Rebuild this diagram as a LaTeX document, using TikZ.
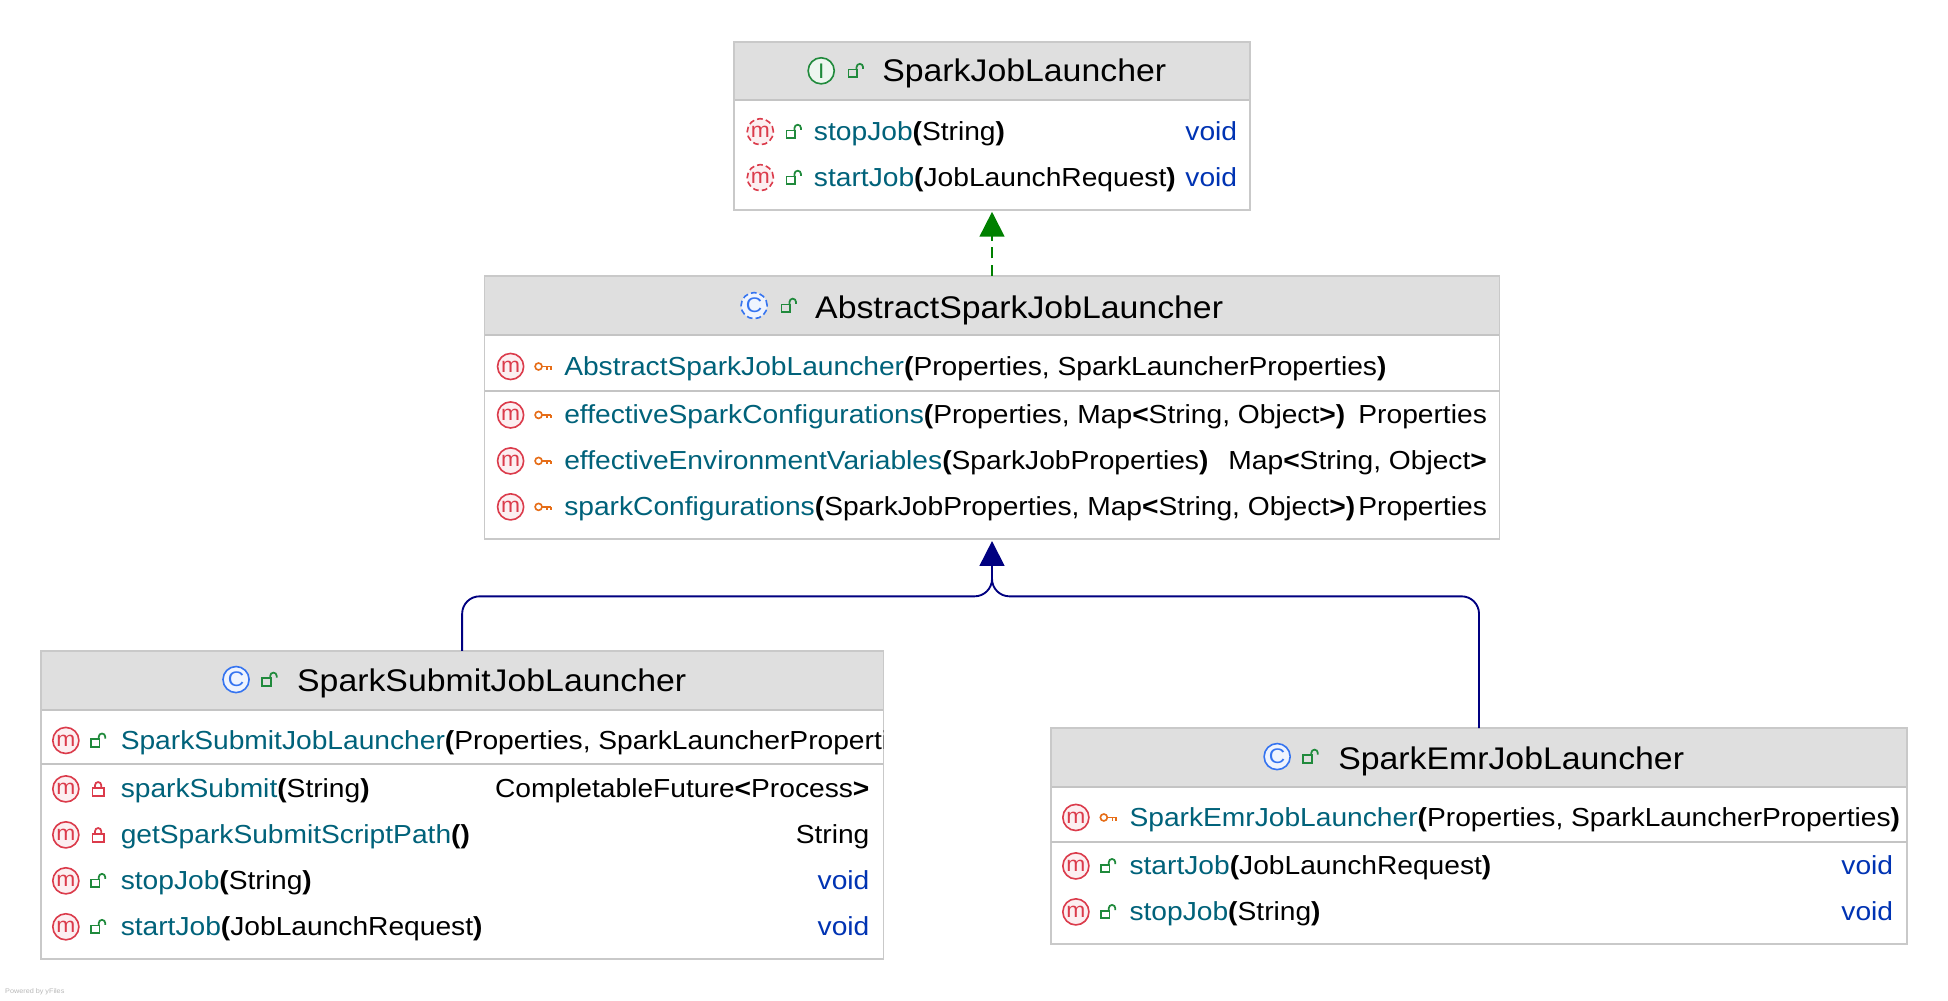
\documentclass[tikz,border=0pt]{standalone}
\usepackage{fontspec}
\setmainfont[FakeStretch=1.08]{Liberation Sans}
\usetikzlibrary{arrows.meta}
\definecolor{hdr}{HTML}{DFDFDF}
\definecolor{bord}{HTML}{C9C9C9}
\definecolor{sepc}{HTML}{C4C4C4}
\definecolor{teal}{HTML}{00627A}
\definecolor{voidc}{HTML}{0033B3}
\definecolor{mred}{HTML}{DB3B4B}
\definecolor{lgreen}{HTML}{208A3C}
\definecolor{korange}{HTML}{E66D17}
\definecolor{cblue}{HTML}{3574F0}
\definecolor{agreen}{HTML}{008000}
\definecolor{anavy}{HTML}{000080}
\newcommand{\B}[1]{\textbf{#1}}
\tikzset{
  dsh/.style={dash pattern=on 4.6pt off 2.6pt},
  cbox/.style={draw=bord,line width=1.3pt,fill=white,inner sep=0pt,outer sep=0pt},
  hbox/.style={fill=hdr,inner sep=0pt,outer sep=0pt},
  sepl/.style={draw=sepc,line width=1.7pt},
  titletxt/.style={anchor=base west,inner sep=0pt,font=\fontsize{25.2}{30}\selectfont},
  rowtxt/.style={anchor=base west,inner sep=0pt,font=\fontsize{21}{25}\selectfont},
  rettxt/.style={anchor=base east,inner sep=0pt,font=\fontsize{21}{25}\selectfont},
  pics/glyph/.style n args={3}{code={
    \draw[#2,fill=#2!8,line width=1.3pt,#3] (0,0) circle (10.5pt);
    \node[text=#2,inner sep=0pt,font=\fontsize{17}{17}\selectfont] (-t) {#1};
  }},
  pics/openlock/.style={code={
    \draw[lgreen,line width=1.4pt] (-6,-1) rectangle (1,5);
    \draw[lgreen,line width=1.4pt] (0.5,-1) -- (0.5,-3) arc[start angle=180,end angle=0,radius=2.6pt] -- (5.7,-1.5);
  }},
  pics/closedlock/.style={code={
    \draw[mred,line width=1.4pt] (-4.5,-0.5) rectangle (4.5,5.5);
    \draw[mred,line width=1.4pt] (-2.5,-0.5) -- (-2.5,-3) arc[start angle=180,end angle=0,radius=2.5pt] -- (2.5,-0.5);
  }},
  pics/keyicon/.style={code={
    \draw[korange,line width=1.3pt] (-3.5,0) circle (2.8pt);
    \draw[korange,line width=1.3pt] (-0.7,0) -- (6.5,0) (3.5,0) -- (3.5,2.8) (6.5,0) -- (6.5,2.8);
  }},
}
\newcommand{\classbox}[6]{%
  \node[cbox,minimum width=#4pt,minimum height=#5pt] (#1) at (#2,#3) {};
  \node[hbox,anchor=north,minimum width=#4pt-1.3pt,minimum height=#6pt] (#1h) at ([yshift=-0.6pt]#1.north) {};
  \draw[sepl] (#1h.south west) -- (#1h.south east);
}
\newcommand{\classtitle}[8]{%
  \pic (#1g) at (#2,#5) {glyph={#6}{#7}{#8}};
  \pic (#1l) at (#3,#5) {openlock};
}
\newcommand{\mrow}[8]{%
  \pic (#1g) at (\mx,#2) {glyph={m}{mred}{#3}};
  \pic (#1l) at (\lx,#2) {#4};
  \node[rowtxt] (#1n) at (\tx,#2+7) {\textcolor{teal}{#5}#6};
  \node[rettxt,text=#8] (#1r) at (\rx,#2+7) {#7};
}
\begin{document}
\begin{tikzpicture}[x=1pt,y=-1pt]
\useasboundingbox (0,0) rectangle (1568,805);
\fill[white] (0,0) rectangle (1568,805);

% boxes
\classbox{top}{798.5}{101.5}{415}{135}{46}
\classbox{abs}{798.5}{328}{817}{212}{47}
\classbox{sub}{372}{648}{678}{248}{47}
\classbox{emr}{1190.5}{673}{689}{174}{47}

% separators
\draw[sepl] (abs.west |- 0,315) -- (abs.east |- 0,315);
\draw[sepl] (sub.west |- 0,615) -- (sub.east |- 0,615);
\draw[sepl] (emr.west |- 0,678) -- (emr.east |- 0,678);

% titles
\classtitle{top}{661}{689}{}{57}{I}{lgreen}{solid}
\node[titletxt] (topt) at (710,66) {SparkJobLauncher};
\classtitle{abs}{607}{635}{}{246}{C}{cblue}{dsh}
\node[titletxt] (abst) at (656,256) {AbstractSparkJobLauncher};
\classtitle{sub}{190}{217}{}{547}{C}{cblue}{solid}
\node[titletxt] (subt) at (239,557) {SparkSubmitJobLauncher};
\classtitle{emr}{1028}{1055}{}{609}{C}{cblue}{solid}
\node[titletxt] (emrt) at (1077,619) {SparkEmrJobLauncher};

% SparkJobLauncher
\def\mx{612}\def\lx{639}\def\tx{655}\def\rx{996}
\mrow{t1}{106}{dsh}{openlock}{stopJob}{\B{(}String\B{)}}{void}{voidc}
\mrow{t2}{143}{dsh}{openlock}{startJob}{\B{(}JobLaunchRequest\B{)}}{void}{voidc}

% AbstractSparkJobLauncher
\def\mx{411}\def\lx{437}\def\tx{454}\def\rx{1197}
\mrow{a1}{295}{solid}{keyicon}{AbstractSparkJobLauncher}{\B{(}Properties, SparkLauncherProperties\B{)}}{}{black}
\mrow{a2}{334}{solid}{keyicon}{effectiveSparkConfigurations}{\B{(}Properties, Map\B{<}String, Object\B{>)}}{Properties}{black}
\mrow{a3}{371}{solid}{keyicon}{effectiveEnvironmentVariables}{\B{(}SparkJobProperties\B{)}}{Map\B{<}String, Object\B{>}}{black}
\mrow{a4}{408}{solid}{keyicon}{sparkConfigurations}{\B{(}SparkJobProperties, Map\B{<}String, Object\B{>)}}{Properties}{black}

% SparkSubmitJobLauncher
\def\mx{53}\def\lx{79}\def\tx{97}\def\rx{700}
\begin{scope}
\clip (sub.north west) rectangle (sub.south east);
\mrow{s1}{596}{solid}{openlock}{SparkSubmitJobLauncher}{\B{(}Properties, SparkLauncherPropertie}{}{black}
\end{scope}
\mrow{s2}{635}{solid}{closedlock}{sparkSubmit}{\B{(}String\B{)}}{CompletableFuture\B{<}Process\B{>}}{black}
\mrow{s3}{672}{solid}{closedlock}{getSparkSubmitScriptPath}{\B{()}}{String}{black}
\mrow{s4}{709}{solid}{openlock}{stopJob}{\B{(}String\B{)}}{void}{voidc}
\mrow{s5}{746}{solid}{openlock}{startJob}{\B{(}JobLaunchRequest\B{)}}{void}{voidc}

% SparkEmrJobLauncher
\def\mx{866}\def\lx{892}\def\tx{909}\def\rx{1524}
\mrow{e1}{658}{solid}{keyicon}{SparkEmrJobLauncher}{\B{(}Properties, SparkLauncherProperties\B{)}}{}{black}
\mrow{e2}{697}{solid}{openlock}{startJob}{\B{(}JobLaunchRequest\B{)}}{void}{voidc}
\mrow{e3}{734}{solid}{openlock}{stopJob}{\B{(}String\B{)}}{void}{voidc}

% connectors
\coordinate (bus) at (0,480);
\draw[agreen,line width=1.5pt,dash pattern=on 9pt off 5pt,-{Triangle[length=20pt,width=20pt]},shorten >=1.5pt] (abs.north) -- (top.south);
\draw[anavy,line width=1.5pt,rounded corners=14pt] (emr.north) -- (emr.north |- bus) -- (abs.south |- bus) -- ([yshift=-22pt]abs.south);
\draw[anavy,line width=1.5pt,rounded corners=14pt,-{Triangle[length=20pt,width=20pt]},shorten >=1.5pt] (sub.north) -- (sub.north |- bus) -- (abs.south |- bus) -- (abs.south);

\node[anchor=base west,inner sep=0pt,text=black!28,font=\fontsize{5.4}{6}\selectfont] (yf) at (4,800) {Powered by yFiles};
\end{tikzpicture}
\end{document}
